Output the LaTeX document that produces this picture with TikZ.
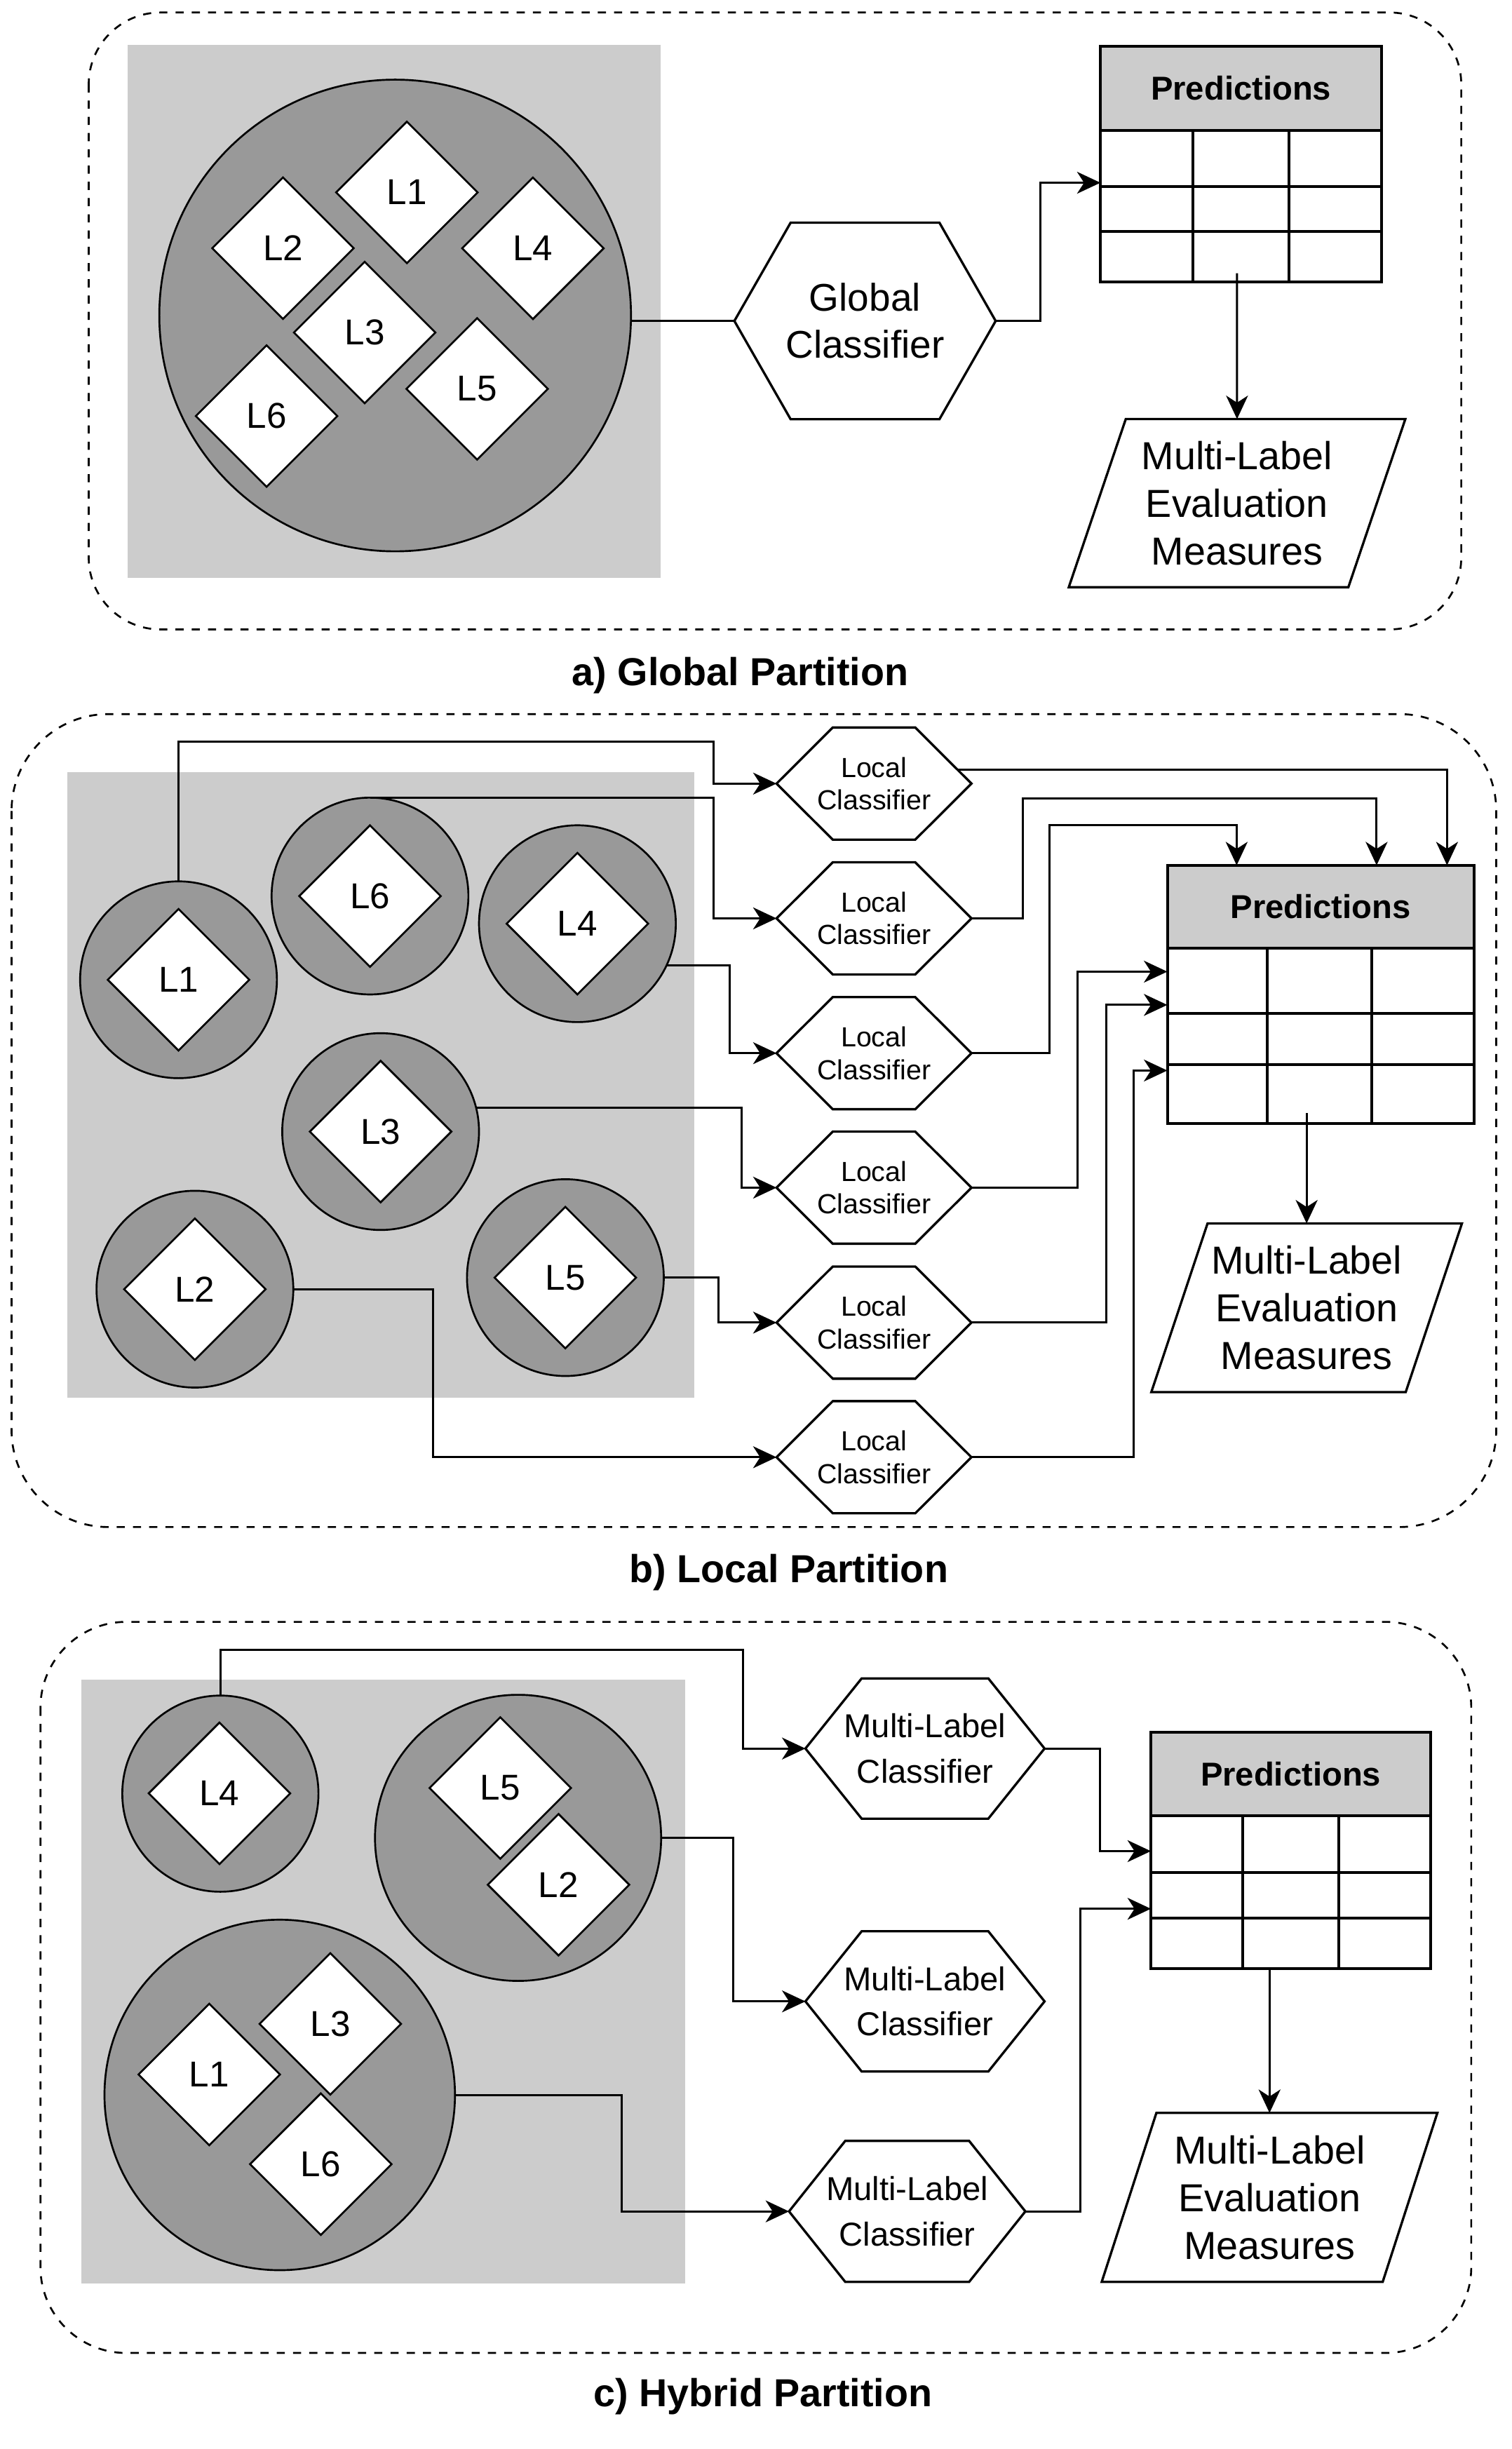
\documentclass[tikz,border=0pt]{standalone}
\usepackage{fontspec}
\setmainfont{Liberation Sans}
\usetikzlibrary{arrows.meta,shapes.geometric}
\definecolor{lgray}{HTML}{CCCCCC}
\definecolor{dgray}{HTML}{999999}
\newcommand\hexdraw[2]{\draw[hexline] (#1.west) -- ([xshift=#2]#1.north west) -- ([xshift=-#2]#1.north east) -- (#1.east) -- ([xshift=-#2]#1.south east) -- ([xshift=#2]#1.south west) -- cycle;}
\newcommand\pardraw[2]{\draw[parline] ([xshift=#2]#1.north west) -- (#1.north east) -- ([xshift=-#2]#1.south east) -- (#1.south west) -- cycle;}
\begin{document}
\begin{tikzpicture}[x=1pt,y=-1pt,
  every node/.style={inner sep=0pt, outer sep=0pt},
  dbox/.style={draw, dash pattern=on 5.2pt off 5.2pt, line width=1.2pt},
  area/.style={fill=lgray},
  grp/.style={circle, draw, fill=dgray, line width=1.2pt},
  lab/.style={diamond, draw, fill=white, line width=1.2pt, minimum width=90.6, minimum height=90.6, font=\fontsize{23}{27}\selectfont},
  hexline/.style={line width=1.5pt, line join=miter},
  hextxt/.style={align=center},
  parline/.style={line width=1.5pt, line join=miter},
  partxt/.style={align=center, font=\fontsize{25}{30.5}\selectfont},
  hdr/.style={draw, fill=lgray, line width=1.8pt, font=\bfseries\fontsize{21.2}{25}\selectfont},
  tbody/.style={draw, line width=1.8pt},
  tabline/.style={line width=1.8pt},
  conn/.style={line width=1.35pt},
  arr/.style={conn, -{Stealth[length=15pt,width=14pt,inset=4.5pt]}},
  capt/.style={anchor=base, font=\bfseries\fontsize{25}{30}\selectfont}
]
\useasboundingbox (0,0) rectangle (968,1568);

% ================= a) Global =================
\draw[dbox, rounded corners=46pt] (56.8,8) rectangle (935.6,403);
\fill[area] (81.5,28.6) rectangle (423,370);
\node[grp, minimum size=302] (ca) at (253,202) {};
\node[lab] (a1) at (260.5,123.2) {L1};
\node[lab] (a2) at (181.2,158.9) {L2};
\node[lab] (a4) at (341.2,159) {L4};
\node[lab] (a3) at (233.5,212.9) {L3};
\node[lab] (a5) at (305.5,249) {L5};
\node[lab] (a6) at (170.7,266.4) {L6};

\node[hextxt, font=\fontsize{24.7}{30}\selectfont, minimum width=167.3, minimum height=125.8] (gc) at (553.85,205.5) {Global\\Classifier};
\hexdraw{gc}{36}

\node[hdr, minimum width=180, minimum height=53.8] (tah) at (794.6,56.5) {Predictions};
\node[tbody, minimum width=180, minimum height=97.3] (tab) at (794.6,132.05) {};
\draw[tabline] (704.6,119.3) -- (884.6,119.3) (704.6,148) -- (884.6,148)
  (764,83.4) -- (764,180.7) (825.5,83.4) -- (825.5,180.7);

\node[partxt, minimum width=215.5, minimum height=107.7] (apar) at (792.05,322.15) {Multi-Label\\Evaluation\\Measures};
\pardraw{apar}{36.5}

\coordinate (ain) at (704.6,117);
\coordinate (aout) at (792,175);
\draw[conn] (gc.west -| ca.east) -- (gc.west);
\draw[arr] (gc.east) -- ++(28.5,0) |- (ain);
\draw[arr] (aout) -- (apar.north);

\node[capt] (capa) at (474,439) {a) Global Partition};

% ================= b) Local =================
\draw[dbox, rounded corners=62pt] (7.4,457.2) rectangle (958,977.7);
\fill[area] (43.2,494.4) rectangle (444.7,895);
\node[grp, minimum size=126] (bL1) at (114.3,627.3) {};
\node[grp, minimum size=126] (bL6) at (236.9,573.7) {};
\node[grp, minimum size=126] (bL4) at (369.7,591.4) {};
\node[grp, minimum size=126] (bL3) at (243.7,724.5) {};
\node[grp, minimum size=126] (bL2) at (124.8,825.4) {};
\node[grp, minimum size=126] (bL5) at (362,818) {};
\node[lab] (bd1) at (bL1) {L1};
\node[lab] (bd6) at (bL6) {L6};
\node[lab] (bd4) at (bL4) {L4};
\node[lab] (bd3) at (bL3) {L3};
\node[lab] (bd2) at (bL2) {L2};
\node[lab] (bd5) at (bL5) {L5};

\foreach \n/\yy in {1/501.7,2/588,3/674.3,4/760.4,5/846.8,6/933}{
  \node[hextxt, font=\fontsize{17.7}{21}\selectfont, minimum width=124.8, minimum height=71.8] (bh\n) at (559.6,\yy) {Local\\Classifier};
  \hexdraw{bh\n}{36}
}

\node[hdr, minimum width=196.4, minimum height=53.2] (tbh) at (845.6,580.6) {Predictions};
\node[tbody, minimum width=196.4, minimum height=112.1] (tbb) at (845.6,663.25) {};
\draw[tabline] (747.4,648.9) -- (943.8,648.9) (747.4,681.7) -- (943.8,681.7)
  (811.6,607.2) -- (811.6,719.3) (878.3,607.2) -- (878.3,719.3);

\node[partxt, minimum width=198.9, minimum height=108] (bpar) at (836.6,837.3) {Multi-Label\\Evaluation\\Measures};
\pardraw{bpar}{36}

\coordinate (bt1) at (791.8,554);
\coordinate (bt2) at (881.4,554);
\coordinate (bt3) at (926.5,554);
\coordinate (bs1) at (747.4,622.1);
\coordinate (bs2) at (747.4,643.4);
\coordinate (bs3) at (747.4,685.4);
\coordinate (bout) at (836.6,712.6);

\draw[arr] (bL1.north) |- (457,475) |- (bh1.west);
\draw[arr] (bL6.north) -- ++(220.1,0) |- (bh2.west);
\draw[arr] (bL4.-25) -- ++(40.5,0) |- (bh3.west);
\draw[arr] (bL3.14) -- ++(170,0) |- (bh4.west);
\draw[arr] (bL5.east) -- ++(35.2,0) |- (bh5.west);
\draw[arr] (bL2.east) -- ++(89.5,0) |- (bh6.west);

\draw[arr] ([xshift=-9pt,yshift=9pt]bh1.east) -| (bt3);
\draw[arr] (bh2.east) -- ++(32.7,0) -- ++(0,-76.8) -| (bt2);
\draw[arr] (bh3.east) -- ++(50,0) -- ++(0,-146) -| (bt1);
\draw[arr] (bh4.east) -- ++(68,0) |- (bs1);
\draw[arr] (bh5.east) -- ++(86.5,0) |- (bs2);
\draw[arr] (bh6.east) -- ++(103.8,0) |- (bs3);
\draw[arr] (bout) -- (bpar.north);

\node[capt] (capb) at (505,1013) {b) Local Partition};

% ================= c) Hybrid =================
\draw[dbox, rounded corners=55pt] (25.9,1038.4) rectangle (942,1506.5);
\fill[area] (51.9,1075.6) rectangle (438.5,1461.8);
\node[grp, minimum size=125.6] (cL4) at (141.1,1148.4) {};
\node[grp, minimum size=183.2] (c52) at (331.7,1176.7) {};
\node[grp, minimum size=224.4] (cbig) at (179.1,1341.3) {};
\node[lab] (cd4) at (140.5,1148.2) {L4};
\node[lab] (cd5) at (320.3,1144.8) {L5};
\node[lab] (cd2) at (357.6,1206.7) {L2};
\node[lab] (cd3) at (211.5,1295.8) {L3};
\node[lab] (cd1) at (134,1328.2) {L1};
\node[lab] (cd6) at (205.4,1385.6) {L6};

\node[hextxt, font=\fontsize{21.2}{29}\selectfont, minimum width=153.1, minimum height=89.8] (ch1) at (592.25,1119.5) {Multi-Label\\Classifier};
\hexdraw{ch1}{36}
\node[hextxt, font=\fontsize{21.2}{29}\selectfont, minimum width=153.1, minimum height=89.8] (ch2) at (592.25,1281.4) {Multi-Label\\Classifier};
\hexdraw{ch2}{36}
\node[hextxt, font=\fontsize{21.2}{29}\selectfont, minimum width=151.3, minimum height=90.3] (ch3) at (580.85,1415.85) {Multi-Label\\Classifier};
\hexdraw{ch3}{36}

\node[hdr, minimum width=179.1, minimum height=53.6] (tch) at (826.45,1135.9) {Predictions};
\node[tbody, minimum width=179.1, minimum height=97.6] (tcb) at (826.45,1211.5) {};
\draw[tabline] (736.9,1198.9) -- (916,1198.9) (736.9,1227.9) -- (916,1227.9)
  (795.6,1162.7) -- (795.6,1260.3) (857.3,1162.7) -- (857.3,1260.3);

\node[partxt, minimum width=214.9, minimum height=108.2] (cpar) at (812.85,1406.9) {Multi-Label\\Evaluation\\Measures};
\pardraw{cpar}{35}

\coordinate (cs1) at (736.9,1185.2);
\coordinate (cs2) at (736.9,1222.1);

\draw[arr] (cL4.north) |- (475.6,1056.5) |- (ch1.west);
\draw[arr] (c52.east) -- ++(46.3,0) |- (ch2.west);
\draw[arr] (cbig.east) -- ++(106.9,0) |- (ch3.west);
\draw[arr] (ch1.east) -- ++(35.3,0) |- (cs1);
\draw[arr] (ch3.east) -- ++(35.3,0) |- (cs2);
\draw[arr] (tcb.south -| cpar.north) -- (cpar.north);

\node[capt] (capc) at (488.6,1541) {c) Hybrid Partition};
\end{tikzpicture}
\end{document}
